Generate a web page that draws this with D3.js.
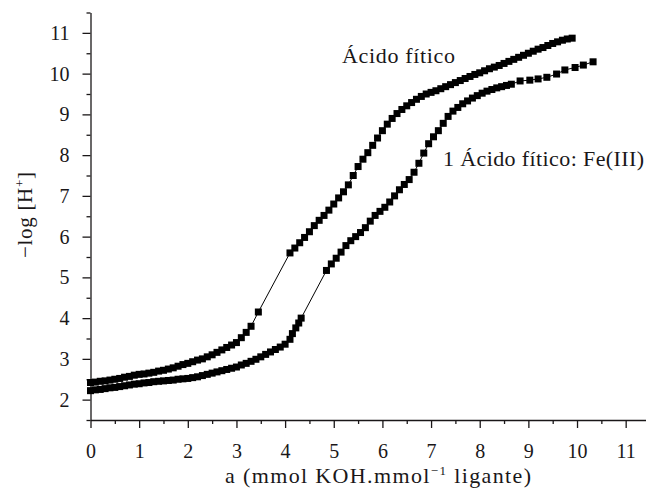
<!DOCTYPE html>
<html>
<head>
<meta charset="utf-8">
<script src="https://cdn.jsdelivr.net/npm/d3@7"></script>
<style>
  html, body { margin: 0; padding: 0; background: #fff; }
  svg { display: block; font-family: "Liberation Serif", "Times New Roman", serif; }
</style>
</head>
<body>
<svg id="chart" width="646" height="490"></svg>
<script>
// Titration curve: phytic acid alone
const acidX = [0.0,0.1,0.2,0.3,0.4,0.5,0.6,0.7,0.8,0.9,1.0,1.1,1.2,1.3,1.4,1.5,1.6,1.7,1.8,1.9,
  2.0,2.1,2.2,2.3,2.4,2.5,2.6,2.7,2.8,2.9,3.0,3.1,3.2,3.3,3.45,
  4.1,4.2,4.3,4.4,4.5,4.6,4.7,4.8,4.9,5.0,5.1,5.2,5.3,5.4,5.5,5.6,5.7,5.8,5.9,
  6.0,6.1,6.2,6.3,6.4,6.5,6.6,6.7,6.8,6.9,7.0,7.1,7.2,7.3,7.4,7.5,7.6,7.7,7.8,7.9,
  8.0,8.1,8.2,8.3,8.4,8.5,8.6,8.7,8.8,8.9,9.0,9.1,9.2,9.3,9.4,9.5,9.6,9.7,9.8,9.9];
const acidY = [2.42,2.43,2.45,2.46,2.48,2.50,2.52,2.55,2.57,2.60,2.62,2.63,2.65,2.67,2.70,2.72,2.75,2.78,2.82,2.86,
  2.89,2.93,2.97,3.00,3.05,3.10,3.16,3.22,3.28,3.34,3.40,3.52,3.65,3.80,4.15,
  5.60,5.72,5.85,5.98,6.12,6.27,6.40,6.52,6.65,6.80,6.95,7.10,7.27,7.50,7.72,7.90,8.06,8.24,8.42,
  8.60,8.76,8.90,9.02,9.12,9.21,9.29,9.37,9.44,9.50,9.54,9.58,9.63,9.68,9.73,9.78,9.83,9.88,9.93,9.98,
  10.02,10.07,10.12,10.16,10.20,10.25,10.30,10.35,10.40,10.45,10.50,10.55,10.60,10.64,10.69,10.74,10.78,10.82,10.85,10.87];

// Titration curve: 1 phytic acid : Fe(III)
const feX = [0.0,0.1,0.2,0.3,0.4,0.5,0.6,0.7,0.8,0.9,1.0,1.1,1.2,1.3,1.4,1.5,1.6,1.7,1.8,1.9,
  2.0,2.1,2.2,2.3,2.4,2.5,2.6,2.7,2.8,2.9,3.0,3.1,3.2,3.3,3.4,3.5,3.6,3.7,3.8,3.9,
  4.0,4.1,4.15,4.22,4.28,4.33,
  4.85,4.95,5.05,5.15,5.25,5.35,5.45,5.55,5.65,5.75,5.85,5.95,6.05,6.15,6.25,6.35,6.45,6.55,6.65,6.75,6.85,6.95,
  7.05,7.15,7.25,7.35,7.45,7.55,7.65,7.75,7.85,7.95,8.05,8.15,8.25,8.35,8.45,8.55,8.65,
  8.83,9.03,9.2,9.38,9.58,9.75,9.96,10.13,10.33];
const feY = [2.22,2.24,2.25,2.27,2.29,2.30,2.32,2.34,2.36,2.38,2.39,2.41,2.42,2.44,2.45,2.46,2.47,2.48,2.50,2.51,
  2.52,2.54,2.56,2.59,2.62,2.65,2.68,2.71,2.74,2.77,2.80,2.85,2.89,2.94,2.99,3.05,3.11,3.17,3.23,3.29,
  3.36,3.48,3.62,3.76,3.88,4.00,
  5.17,5.33,5.47,5.62,5.78,5.90,6.00,6.10,6.22,6.38,6.52,6.62,6.72,6.85,7.00,7.15,7.28,7.40,7.58,7.80,8.05,8.28,
  8.45,8.60,8.78,8.95,9.08,9.17,9.26,9.33,9.40,9.46,9.52,9.57,9.61,9.65,9.68,9.71,9.74,
  9.82,9.84,9.87,9.91,9.99,10.09,10.15,10.21,10.29];

const xTicks = [0,1,2,3,4,5,6,7,8,9,10,11];
const yTicks = [2,3,4,5,6,7,8,9,10,11];
const xMinor = [0.5,1.5,2.5,3.5,4.5,5.5,6.5,7.5,8.5,9.5,10.5,11.5];
const yMinor = [1.5,2.5,3.5,4.5,5.5,6.5,7.5,8.5,9.5,10.5,11.5];

const ink = "#1a1718";
const svg = d3.select("#chart");

const x = d3.scaleLinear().domain([0, 11.5]).range([90.5, 650]);
const y = d3.scaleLinear().domain([1.5, 11.5]).range([420, 12.5]);

// minor ticks
svg.append("g").attr("transform", `translate(0,${y(1.5)})`)
  .call(d3.axisBottom(x).tickValues(xMinor).tickSize(4).tickFormat(""))
  .call(g => g.select(".domain").remove());
svg.append("g").attr("transform", `translate(${x(0)},0)`)
  .call(d3.axisLeft(y).tickValues(yMinor).tickSize(4).tickFormat(""))
  .call(g => g.select(".domain").remove());

// major axes
svg.append("g").attr("transform", `translate(0,${y(1.5)})`)
  .call(d3.axisBottom(x).tickValues(xTicks).tickSize(8).tickSizeOuter(0).tickPadding(16).tickFormat(d3.format("d")));
svg.append("g").attr("transform", `translate(${x(0)},0)`)
  .call(d3.axisLeft(y).tickValues(yTicks).tickSize(8).tickSizeOuter(0).tickPadding(13).tickFormat(d3.format("d")));

svg.selectAll(".tick line, .domain").attr("stroke", ink).attr("stroke-width", 1.3);
svg.selectAll(".tick text").attr("fill", ink).style("font-size", "20px")
  .style("font-family", "'Liberation Serif', serif");

// series: line with square markers
const series = [
  { xs: acidX, ys: acidY },
  { xs: feX, ys: feY }
];
const line = d3.line().x(d => x(d[0])).y(d => y(d[1]));
const ms = 7;
series.forEach(s => {
  const pts = s.xs.map((v, i) => [v, s.ys[i]]);
  svg.append("path").datum(pts).attr("d", line)
    .attr("fill", "none").attr("stroke", "#000").attr("stroke-width", 1);
  svg.append("g").selectAll("rect").data(pts).join("rect")
    .attr("x", d => x(d[0]) - ms / 2).attr("y", d => y(d[1]) - ms / 2)
    .attr("width", ms).attr("height", ms).attr("fill", "#000");
});

// series labels
svg.append("text").attr("x", 342).attr("y", 63).attr("fill", ink)
  .attr("textLength", 113).attr("lengthAdjust", "spacing")
  .style("font-size", "22px").text("Ácido fítico");
svg.append("text").attr("x", 443).attr("y", 166).attr("fill", ink)
  .attr("textLength", 201).attr("lengthAdjust", "spacing")
  .style("font-size", "22px").text("1 Ácido fítico: Fe(III)");

// axis titles
const xt = svg.append("text").attr("x", 378).attr("y", 483).attr("text-anchor", "middle")
  .attr("fill", ink).attr("textLength", 306).attr("lengthAdjust", "spacing")
  .style("font-size", "22px");
xt.append("tspan").text("a (mmol KOH.mmol");
xt.append("tspan").attr("dy", -8).style("font-size", "13px").text("−1");
xt.append("tspan").attr("dy", 8).text(" ligante)");

const yt = svg.append("text").attr("transform", "translate(31.5,215) rotate(-90)")
  .attr("text-anchor", "middle").attr("fill", ink)
  .attr("textLength", 86).attr("lengthAdjust", "spacing")
  .style("font-size", "21px");
yt.append("tspan").text("−log [H");
yt.append("tspan").attr("dy", -8).style("font-size", "13px").text("+");
yt.append("tspan").attr("dy", 8).text("]");
</script>
</body>
</html>
